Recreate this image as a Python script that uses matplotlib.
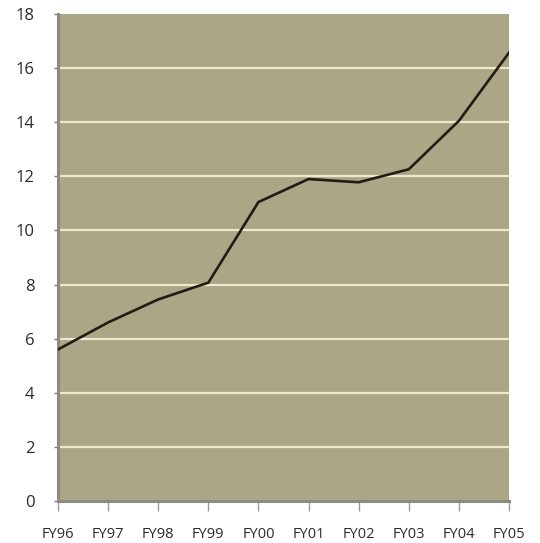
import matplotlib
matplotlib.use("Agg")
import matplotlib.pyplot as plt

years = ["FY96", "FY97", "FY98", "FY99", "FY00", "FY01", "FY02", "FY03", "FY04", "FY05"]
values = [5.6, 6.6, 7.45, 8.07, 11.05, 11.9, 11.78, 12.26, 14.05, 16.57]
yticks = [0, 2, 4, 6, 8, 10, 12, 14, 16, 18]

plt.rcParams['font.family'] = ['Open Sans', 'DejaVu Sans']

fig = plt.figure(figsize=(5.40, 5.43), dpi=100)
ax = fig.add_axes([58/540, 42/543, 451/540, 487/543])
ax.set_facecolor('#ABA686')

x = list(range(len(years)))
ax.plot(x, values, color='#231c14', lw=1.9, solid_joinstyle='miter', zorder=3)

ax.set_xlim(0, len(years) - 1)
ax.set_ylim(0, 18)
ax.set_yticks(yticks)
ax.set_yticklabels([str(v) for v in yticks])
ax.set_xticks(x)
ax.set_xticklabels(years)

for v in yticks[1:-1]:
    ax.axhline(v, color='#EEE9CE', lw=1.6, zorder=2)

for s in ['top', 'right']:
    ax.spines[s].set_visible(False)
ax.spines['left'].set_color('#8C8B80')
ax.spines['left'].set_linewidth(2.2)
ax.spines['bottom'].set_color('#8C8B80')
ax.spines['bottom'].set_linewidth(2.2)

ax.tick_params(axis='y', length=3, width=1, color='#777', pad=14, labelsize=12, labelcolor='#2b2b2b')
ax.tick_params(axis='x', length=7, width=1, color='#999', pad=12, labelsize=10.5, labelcolor='#2b2b2b')

fig.savefig('out.png', dpi=100, facecolor='white')
